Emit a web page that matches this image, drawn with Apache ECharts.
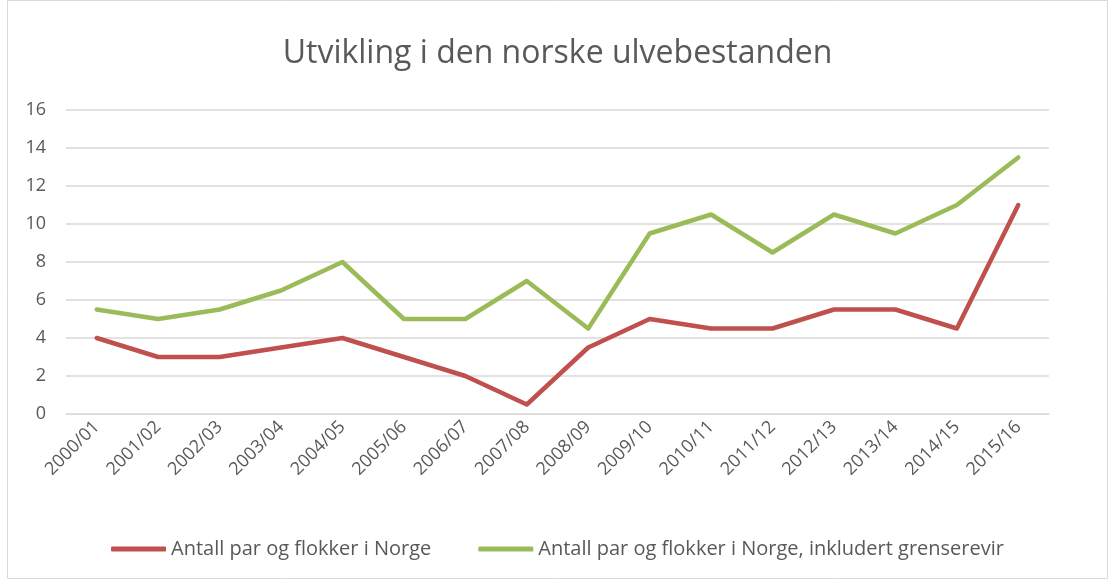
<!DOCTYPE html>
<html>
<head>
<meta charset="utf-8">
<script src="https://cdn.jsdelivr.net/npm/echarts@6/dist/echarts.min.js"></script>
<style>
  html, body { margin: 0; padding: 0; background: #fff; }
  #chart { width: 1115px; height: 581px; }
</style>
</head>
<body>
<div id="chart"></div>
<script>
var seasons = ['2000/01', '2001/02', '2002/03', '2003/04', '2004/05', '2005/06', '2006/07', '2007/08',
  '2008/09', '2009/10', '2010/11', '2011/12', '2012/13', '2013/14', '2014/15', '2015/16'];
var parNorge = [4, 3, 3, 3.5, 4, 3, 2, 0.5, 3.5, 5, 4.5, 4.5, 5.5, 5.5, 4.5, 11];
var parGrense = [5.5, 5, 5.5, 6.5, 8, 5, 5, 7, 4.5, 9.5, 10.5, 8.5, 10.5, 9.5, 11, 13.5];

var font = '"Open Sans", "Noto Sans", sans-serif';
var textColor = '#595959';

var chart = echarts.init(document.getElementById('chart'));
chart.setOption({
  animation: false,
  textStyle: { fontFamily: font },
  title: {
    text: 'Utvikling i den norske ulvebestanden',
    left: 'center',
    top: 33,
    textStyle: { color: textColor, fontSize: 32, fontWeight: 'normal', fontFamily: font }
  },
  graphic: [{
    type: 'rect',
    shape: { x: 7.5, y: 0.5, width: 1100, height: 578 },
    style: { fill: 'none', stroke: '#d9d9d9', lineWidth: 1 }
  }],
  legend: {
    bottom: 17,
    left: 'center',
    itemWidth: 55,
    itemHeight: 5,
    itemGap: 47,
    icon: 'roundRect',
    textStyle: { color: textColor, fontSize: 20, padding: [0, 0, 0, 0] },
    data: ['Antall par og flokker i Norge', 'Antall par og flokker i Norge, inkludert grenserevir']
  },
  grid: { left: 66, right: 66, top: 110, bottom: 167 },
  xAxis: {
    type: 'category',
    data: seasons,
    axisLine: { lineStyle: { color: '#d9d9d9' } },
    axisTick: { show: false },
    axisLabel: { color: textColor, fontSize: 18, rotate: 45, interval: 0, margin: 10 }
  },
  yAxis: {
    type: 'value',
    min: 0,
    max: 16,
    interval: 2,
    axisLine: { show: false },
    axisTick: { show: false },
    axisLabel: { color: textColor, fontSize: 18, margin: 20 },
    splitLine: { lineStyle: { color: '#d9d9d9', width: 1.5 } }
  },
  series: [
    {
      name: 'Antall par og flokker i Norge',
      type: 'line',
      data: parNorge,
      symbol: 'none',
      color: '#c0504d',
      lineStyle: { width: 4.5, cap: 'round', join: 'round' }
    },
    {
      name: 'Antall par og flokker i Norge, inkludert grenserevir',
      type: 'line',
      data: parGrense,
      symbol: 'none',
      color: '#9bbb59',
      lineStyle: { width: 4.5, cap: 'round', join: 'round' }
    }
  ]
});
</script>
</body>
</html>
